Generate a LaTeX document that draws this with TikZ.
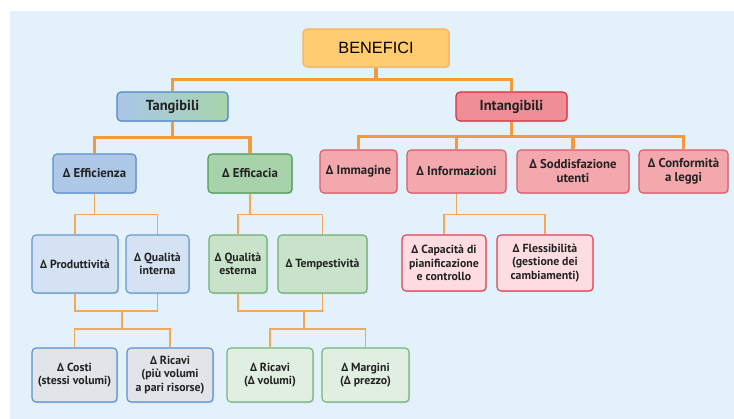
\documentclass[tikz,border=0pt]{standalone}
\usepackage{fontspec}
\setmainfont{PT Sans}
\newfontfamily\benfont{Liberation Sans}
\usetikzlibrary{shadows}
\pgfdeclarelayer{bg}
\pgfdeclarelayer{links}
\pgfsetlayers{bg,links,main}
\definecolor{bgc}{HTML}{E2F1FA}
\definecolor{orthick}{HTML}{F39A3E}
\definecolor{orthin}{HTML}{F4A758}
\definecolor{benf}{HTML}{FFCC72}
\definecolor{bend}{HTML}{F6B45E}
\definecolor{tanl}{HTML}{A9C6E8}
\definecolor{tanr}{HTML}{A7D4AC}
\definecolor{tand}{HTML}{4F86C6}
\definecolor{intf}{HTML}{EF8E97}
\definecolor{intd}{HTML}{D42F3D}
\definecolor{blf}{HTML}{AEC8E8}
\definecolor{bld}{HTML}{5A8FCB}
\definecolor{grf}{HTML}{A8D3AA}
\definecolor{grd}{HTML}{4E9A55}
\definecolor{rdf}{HTML}{F3A8AE}
\definecolor{rdd}{HTML}{DC5A66}
\definecolor{bl3f}{HTML}{D5E2F4}
\definecolor{bl3d}{HTML}{6597CF}
\definecolor{gr3f}{HTML}{C8E3CA}
\definecolor{gr3d}{HTML}{6FAE73}
\definecolor{rd3f}{HTML}{FDDDE2}
\definecolor{rd3d}{HTML}{E0404F}
\definecolor{bl4f}{HTML}{E1E4E8}
\definecolor{gr4f}{HTML}{E0EFE1}
\definecolor{gr4d}{HTML}{77B37B}
\definecolor{txt}{HTML}{222222}
\tikzset{
  box/.style={draw, rounded corners=4pt, line width=1.1pt, align=center, inner sep=1pt,
    text=txt, font=\bfseries\fontsize{11.8}{13.3}\selectfont,
    drop shadow={shadow xshift=1.2pt, shadow yshift=-1.2pt, opacity=0.25}},
  lvtwo/.style={box, font=\bfseries\fontsize{12.8}{14}\selectfont},
  lvone/.style={box, font=\bfseries\fontsize{14.5}{16}\selectfont},
  thick link/.style={draw=orthick, line width=3.2pt},
  thin link/.style={draw=orthin, line width=1.3pt},
}
\begin{document}
\begin{tikzpicture}[x=1pt,y=-1pt]
\useasboundingbox (0,0) rectangle (734,419);
\begin{pgfonlayer}{bg}
\fill[bgc] (10,11) rectangle (734,419);
\end{pgfonlayer}

% level 0
\node[box, fill=benf, draw=bend, minimum width=146pt, minimum height=38pt,
  font=\benfont\fontsize{16.3}{18}\selectfont, text=black] (ben) at (376,48) {BENEFICI};
% level 1
\node[lvone, left color=tanl, right color=tanr, draw=tand, minimum width=111pt, minimum height=29pt] (tan) at (172.5,106.5) {Tangibili};
\node[lvone, fill=intf, draw=intd, minimum width=111pt, minimum height=29pt] (int) at (511.5,106.5) {Intangibili};
% level 2
\node[lvtwo, fill=blf, draw=bld, minimum width=83pt, minimum height=39pt] (eff) at (94.5,173.5) {Δ Efficienza};
\node[lvtwo, fill=grf, draw=grd, minimum width=84pt, minimum height=39pt] (efa) at (250,173.5) {Δ Efficacia};
\node[lvtwo, fill=rdf, draw=rdd, minimum width=77pt, minimum height=43pt] (imm) at (358.5,171.5) {Δ Immagine};
\node[lvtwo, fill=rdf, draw=rdd, minimum width=99pt, minimum height=43pt] (inf) at (456.5,171.5) {Δ Informazioni};
\node[lvtwo, fill=rdf, draw=rdd, minimum width=112pt, minimum height=43pt] (sod) at (573,171.5) {Δ Soddisfazione\\utenti};
\node[lvtwo, fill=rdf, draw=rdd, minimum width=89pt, minimum height=43pt] (con) at (683.5,171.5) {Δ Conformità\\a leggi};
% level 3
\node[box, fill=bl3f, draw=bl3d, minimum width=86pt, minimum height=58pt] (pro) at (75,264) {Δ Produttività};
\node[box, fill=bl3f, draw=bl3d, minimum width=63pt, minimum height=58pt] (qin) at (157.5,264) {Δ Qualità\\interna};
\node[box, fill=gr3f, draw=gr3d, minimum width=58pt, minimum height=58pt] (qes) at (238,264) {Δ Qualità\\esterna};
\node[box, fill=gr3f, draw=gr3d, minimum width=89pt, minimum height=58pt] (tem) at (322.5,264) {Δ Tempestività};
\node[box, fill=rd3f, draw=rd3d, minimum width=84pt, minimum height=56pt] (cap) at (444,263) {Δ Capacità di\\pianificazione\\e controllo};
\node[box, fill=rd3f, draw=rd3d, minimum width=96pt, minimum height=56pt] (fle) at (545,263) {Δ Flessibilità\\(gestione dei\\cambiamenti)};
% level 4
\node[box, fill=bl4f, draw=bld, minimum width=85pt, minimum height=54pt] (cos) at (74.5,375) {Δ Costi\\(stessi volumi)};
\node[box, fill=bl4f, draw=bld, minimum width=86pt, minimum height=54pt] (ric) at (170,375) {Δ Ricavi\\(più volumi\\a pari risorse)};
\node[box, fill=gr4f, draw=gr4d, minimum width=86pt, minimum height=54pt] (riv) at (270,375) {Δ Ricavi\\(Δ volumi)};
\node[box, fill=gr4f, draw=gr4d, minimum width=87pt, minimum height=54pt] (mar) at (365.5,375) {Δ Margini\\(Δ prezzo)};

% junctions
\coordinate (j1) at (122,311);
\coordinate (k1) at (122,329);
\coordinate (j2) at (304,311);
\coordinate (k2) at (304,329);

\begin{pgfonlayer}{links}
% thick links
\draw[thick link] (ben.south) -- ++(0,12) -| (tan.north);
\draw[thick link] (ben.south) -- ++(0,12) -| (int.north);
\draw[thick link] (tan.south) -- ++(0,16) -| (eff.north);
\draw[thick link] (tan.south) -- ++(0,16) -| (efa.north);
\draw[thick link] (int.south) -- ++(0,15) -| (imm.north);
\draw[thick link] (int.south) -- ++(0,15) -| (inf.north);
\draw[thick link] (int.south) -- ++(0,15) -| (sod.north);
\draw[thick link] (int.south) -- ++(0,15) -| (con.north);
% thin links
\draw[thin link] (eff.south) -- ++(0,21) -| (pro.north);
\draw[thin link] (eff.south) -- ++(0,21) -| (qin.north);
\draw[thin link] (efa.south) -- ++(0,21) -| (qes.north);
\draw[thin link] (efa.south) -- ++(0,21) -| (tem.north);
\draw[thin link] (inf.south) -- ++(0,21) -| (cap.north);
\draw[thin link] (inf.south) -- ++(0,21) -| (fle.north);
\draw[thin link] (pro.south) |- (j1);
\draw[thin link] (qin.south) |- (j1);
\draw[thin link] (j1) -- (k1);
\draw[thin link] (k1) -| (cos.north);
\draw[thin link] (k1) -| (ric.north);
\draw[thin link] (qes.south) |- (j2);
\draw[thin link] (tem.south) |- (j2);
\draw[thin link] (j2) -- (k2);
\draw[thin link] (k2) -| (riv.north);
\draw[thin link] (k2) -| (mar.north);
\end{pgfonlayer}
\end{tikzpicture}
\end{document}
